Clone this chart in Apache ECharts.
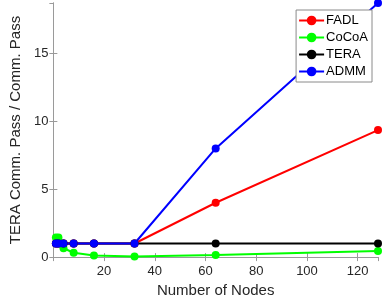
<!DOCTYPE html>
<html>
<head>
<meta charset="utf-8">
<script src="https://cdn.jsdelivr.net/npm/echarts@6/dist/echarts.min.js"></script>
<style>html,body{margin:0;padding:0;background:#fff;}#c{width:382px;height:303px;}</style>
</head>
<body>
<div id="c"></div>
<script>
var nodes = [1, 2, 4, 8, 16, 32, 64, 128];
var fadl  = [1, 1, 1, 1, 1, 1, 4.0, 9.35];
var cocoa = [1.45, 1.45, 0.65, 0.32, 0.12, 0.05, 0.15, 0.45];
var tera  = [1, 1, 1, 1, 1, 1, 1, 1];
var admm  = [1, 1, 1, 1, 1, 1, 8.0, 18.7];
var xTicks = [0, 20, 40, 60, 80, 100, 120];
var yTicks = [0, 5, 10, 15];

var font = 'Liberation Sans, Arial, Helvetica, sans-serif';
var axisCol = '#9a9a9a';
var txtCol = '#262626';

function pairs(ys) { return nodes.map(function (x, i) { return [x, ys[i]]; }); }
function mk(name, ys, color) {
  return {
    name: name, type: 'line', data: pairs(ys),
    symbol: 'circle', symbolSize: 8,
    lineStyle: { color: color, width: 2 },
    itemStyle: { color: color },
    clip: false, animation: false
  };
}

var chart = echarts.init(document.getElementById('c'));
var xBase = {
  type: 'value', min: 0, max: 128, interval: 20,
  axisLine: { show: true, lineStyle: { color: axisCol, width: 1 } },
  axisTick: { show: true, inside: true, length: 4, lineStyle: { color: axisCol } },
  splitLine: { show: false }
};
var yBase = {
  type: 'value', min: 0, max: 18.7, interval: 5,
  axisLine: { show: true, lineStyle: { color: axisCol, width: 1 } },
  axisTick: { show: true, inside: true, length: 4, lineStyle: { color: axisCol } },
  splitLine: { show: false }
};
chart.setOption({
  backgroundColor: '#fff',
  animation: false,
  grid: { left: 43, right: 4, top: 3, bottom: 45 },
  xAxis: [
    Object.assign({}, xBase, {
      position: 'bottom',
      name: 'Number of Nodes', nameLocation: 'middle', nameGap: 25,
      nameTextStyle: { fontFamily: font, fontSize: 15, color: txtCol },
      axisLabel: {
        fontFamily: font, fontSize: 13, color: txtCol, margin: 8,
        showMaxLabel: false,
        formatter: function (v) { return (v === 0 || xTicks.indexOf(v) < 0) ? '' : String(v); }
      }
    }),
    Object.assign({}, xBase, { position: 'top', axisLabel: { show: false } })
  ],
  yAxis: [
    Object.assign({}, yBase, {
      position: 'left',
      name: 'TERA Comm. Pass / Comm. Pass', nameLocation: 'middle', nameGap: 28,
      nameTextStyle: { fontFamily: font, fontSize: 15, color: txtCol },
      axisLabel: {
        fontFamily: font, fontSize: 13, color: txtCol, margin: 5,
        showMaxLabel: false,
        formatter: function (v) { return yTicks.indexOf(v) < 0 ? '' : String(v); }
      }
    }),
    Object.assign({}, yBase, { position: 'right', axisLabel: { show: false } })
  ],
  legend: {
    orient: 'vertical', right: 10, top: 10,
    data: ['FADL', 'CoCoA', 'TERA', 'ADMM'],
    backgroundColor: '#fff', borderColor: '#8a8a8a', borderWidth: 1,
    padding: [4, 4, 4, 2], itemGap: 4, itemWidth: 25, itemHeight: 12,
    textStyle: { fontFamily: font, fontSize: 13, color: '#000', padding: [0, 0, 0, -3] }
  },
  series: [
    mk('FADL', fadl, '#ff0000'),
    mk('CoCoA', cocoa, '#00ff00'),
    mk('TERA', tera, '#000000'),
    mk('ADMM', admm, '#0000ff')
  ]
});
</script>
</body>
</html>
